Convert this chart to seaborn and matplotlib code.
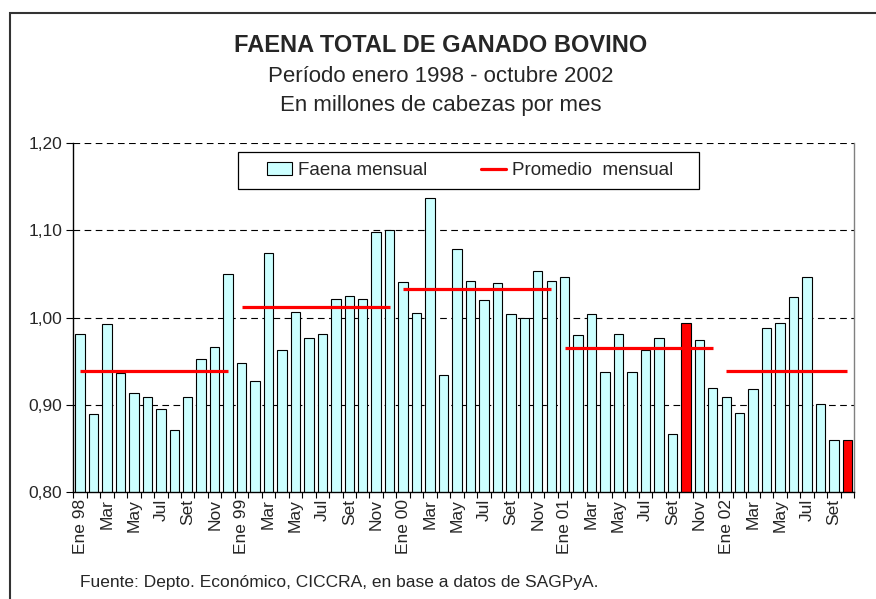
import numpy as np
import pandas as pd
import matplotlib
matplotlib.use('Agg')
import matplotlib.pyplot as plt
from matplotlib.patches import Rectangle
from matplotlib.lines import Line2D
from matplotlib.patches import Patch
import seaborn as sns

# datos (millones de cabezas por mes)
faena_1998 = [0.981, 0.889, 0.993, 0.936, 0.913, 0.909, 0.895, 0.871, 0.909, 0.953, 0.966, 1.050]
faena_1999 = [0.948, 0.927, 1.074, 0.963, 1.006, 0.977, 0.981, 1.021, 1.025, 1.021, 1.098, 1.100]
faena_2000 = [1.041, 1.005, 1.137, 0.934, 1.079, 1.042, 1.020, 1.040, 1.004, 0.999, 1.053, 1.042]
faena_2001 = [1.047, 0.980, 1.004, 0.937, 0.981, 0.938, 0.963, 0.976, 0.866, 0.994, 0.974, 0.919]
faena_2002 = [0.909, 0.890, 0.918, 0.988, 0.994, 1.023, 1.046, 0.901, 0.860, 0.860]

anios = ['98', '99', '00', '01', '02']
promedios = [0.939, 1.012, 1.033, 0.965, 0.939]
meses = ['Ene', 'Feb', 'Mar', 'Abr', 'May', 'Jun', 'Jul', 'Ago', 'Set', 'Oct', 'Nov', 'Dic']
destacados = ['Oct 01', 'Oct 02']

series = [faena_1998, faena_1999, faena_2000, faena_2001, faena_2002]
rows = []
for anio, vals in zip(anios, series):
    for m, v in zip(meses, vals):
        rows.append({'mes': f'{m} {anio}', 'anio': anio, 'valor': v})
df = pd.DataFrame(rows)

colores = ['#FF0000' if m in destacados else '#CCFFFF' for m in df['mes']]

sns.set_theme(style='white')
plt.rcParams['font.family'] = ['Liberation Sans', 'DejaVu Sans']

fig = plt.figure(figsize=(8.76, 5.99), dpi=100)
ax = fig.add_axes([0.0837, 0.1786, 0.8913, 0.5826])

sns.barplot(data=df, x='mes', y='valor', hue='mes', palette=colores, legend=False,
            width=0.7, edgecolor='black', linewidth=0.8, saturation=1, ax=ax, zorder=2)

# promedios mensuales por anio
for anio, prom in zip(anios, promedios):
    idx = np.where(df['anio'] == anio)[0]
    ax.hlines(prom, idx[0], idx[-1], color='#FF0000', linewidth=2.3, zorder=3)

ax.set_ylim(0.80, 1.20)
ax.set_xlim(-0.5, len(df) - 0.5)
ax.set_yticks([0.80, 0.90, 1.00, 1.10, 1.20])
ax.yaxis.set_major_formatter(plt.FuncFormatter(lambda x, p: f'{x:.2f}'.replace('.', ',')))
for y in [0.90, 1.00, 1.10, 1.20]:
    ax.axhline(y, color='black', linestyle=(0, (6, 4)), linewidth=0.8, zorder=1)

# ticks en los limites de las categorias, etiquetas cada dos meses
n = len(df)
ax.set_xticks(np.arange(n + 1) - 0.5)
ax.set_xticklabels([])
ax.set_xticks(np.arange(0, n, 2), minor=True)
lbls = []
for m in df['mes'][::2]:
    nombre, a = m.split()
    lbls.append(m if nombre == 'Ene' else nombre)
ax.set_xticklabels(lbls, minor=True, rotation=90, fontsize=12.5)
ax.tick_params(axis='x', which='major', direction='out', length=4, width=0.8, color='black', bottom=True)
ax.tick_params(axis='x', which='minor', length=0, pad=5)
ax.tick_params(axis='y', direction='out', length=5, width=0.8, color='black', left=True, labelsize=12.5, pad=3)
ax.set_xlabel('')
ax.set_ylabel('')

for s in ['left', 'bottom']:
    ax.spines[s].set_color('black')
    ax.spines[s].set_linewidth(1.0)
ax.spines['top'].set_visible(False)
ax.spines['right'].set_color('#808080')
ax.spines['right'].set_linewidth(1.0)

# caja de la leyenda estilo Excel
ax.add_patch(Rectangle((0.211, 0.868), 0.5905, 0.106, transform=ax.transAxes,
                       facecolor='white', edgecolor='black', linewidth=0.9, zorder=4))
handles = [Patch(facecolor='#CCFFFF', edgecolor='black', linewidth=0.8, label='Faena mensual'),
           Line2D([0], [0], color='#FF0000', linewidth=2.3, label='Promedio  mensual')]
leg = ax.legend(handles=handles, loc='center', bbox_to_anchor=(0.508, 0.921), ncol=2,
                fontsize=13.5, frameon=False, handlelength=1.35, handleheight=0.7,
                handletextpad=0.3, columnspacing=2.9, borderpad=0)
leg.set_zorder(5)

fig.text(0.503, 1 - 45 / 599, 'FAENA TOTAL DE GANADO BOVINO', ha='center', va='center',
         fontsize=17, fontweight='bold')
fig.text(0.503, 1 - 76 / 599, 'Período enero 1998 - octubre 2002', ha='center', va='center', fontsize=16)
fig.text(0.503, 1 - 106 / 599, 'En millones de cabezas por mes', ha='center', va='center', fontsize=16)
fig.text(80 / 876, 1 - 583 / 599, 'Fuente: Depto. Económico, CICCRA, en base a datos de SAGPyA.',
         ha='left', va='center', fontsize=12.5)

fig.patches.append(Rectangle((10 / 876, -0.1), 1.2, 1 - 13 / 599 + 0.1, transform=fig.transFigure,
                             fill=False, edgecolor='#333333', linewidth=1.5))

fig.savefig('out.png', dpi=100)
